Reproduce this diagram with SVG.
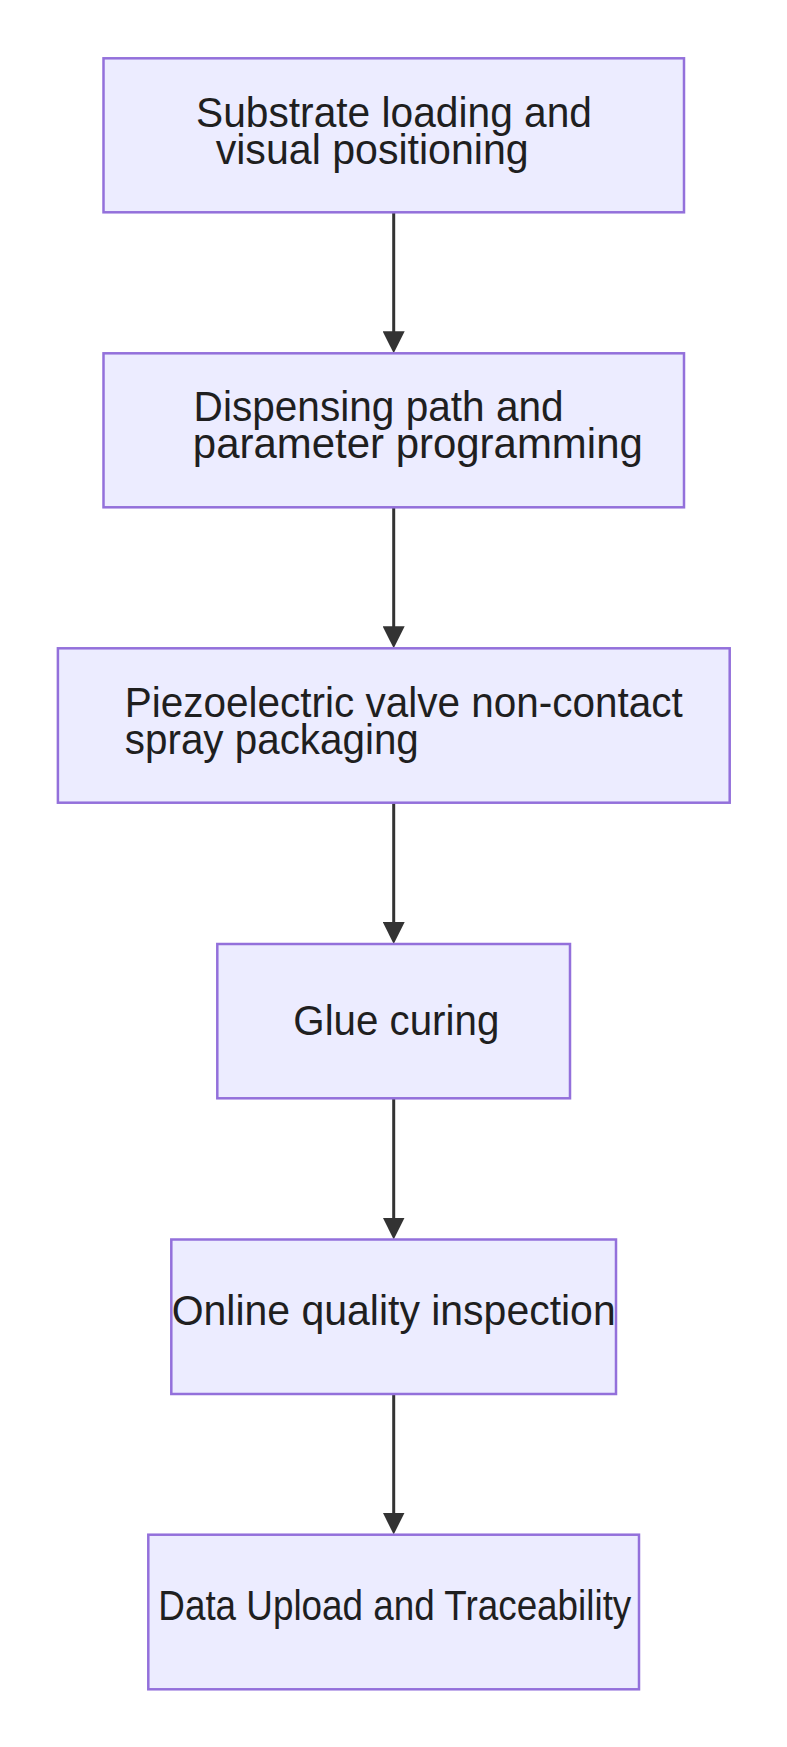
<svg xmlns="http://www.w3.org/2000/svg" width="787" height="1747" viewBox="0 0 787 1747">
<style>
.node rect{fill:#ECECFF;stroke:#9370DB;stroke-width:2.5}
.node text{font-family:"Liberation Sans","Noto Sans",Arial,sans-serif;font-size:42px;fill:#1f1f1f}
.edge{fill:none;stroke:#333333;stroke-width:3}
</style>
<defs>
<marker id="arrow" viewBox="0 0 22 22" markerUnits="userSpaceOnUse" markerWidth="22" markerHeight="22" refX="17" refY="11" orient="auto">
<path d="M0,0 L22,11 L0,22 z" fill="#333333"/>
</marker>
</defs>
<rect width="787" height="1747" fill="#ffffff"/>
<g id="connectors">
<path class="edge" d="M393.7,212.3 L393.7,348.3" marker-end="url(#arrow)"/>
<path class="edge" d="M393.7,507.3 L393.7,643.3" marker-end="url(#arrow)"/>
<path class="edge" d="M393.7,802.7 L393.7,939" marker-end="url(#arrow)"/>
<path class="edge" d="M393.7,1098.3 L393.7,1234.5" marker-end="url(#arrow)"/>
<path class="edge" d="M393.7,1394 L393.7,1529.5" marker-end="url(#arrow)"/>
</g>
<g id="node1" class="node">
<rect x="103.5" y="58.3" width="580.5" height="154"/>
<text x="196" y="127.3" textLength="396" lengthAdjust="spacingAndGlyphs">Substrate loading and</text>
<text x="215.7" y="164" textLength="313" lengthAdjust="spacingAndGlyphs">visual positioning</text>
</g>
<g id="node2" class="node">
<rect x="103.5" y="353.3" width="580.5" height="154"/>
<text x="193.6" y="420.7" textLength="370" lengthAdjust="spacingAndGlyphs">Dispensing path and</text>
<text x="192.8" y="458.3" textLength="450" lengthAdjust="spacingAndGlyphs">parameter programming</text>
</g>
<g id="node3" class="node">
<rect x="57.9" y="648.3" width="671.8" height="154.4"/>
<text x="124.8" y="717.3" textLength="558" lengthAdjust="spacingAndGlyphs">Piezoelectric valve non-contact</text>
<text x="124.8" y="754" textLength="294" lengthAdjust="spacingAndGlyphs">spray packaging</text>
</g>
<g id="node4" class="node">
<rect x="217.3" y="944" width="352.7" height="154.3"/>
<text x="293.3" y="1035" textLength="206" lengthAdjust="spacingAndGlyphs">Glue curing</text>
</g>
<g id="node5" class="node">
<rect x="171.3" y="1239.5" width="444.7" height="154.5"/>
<text x="171.7" y="1325" textLength="444" lengthAdjust="spacingAndGlyphs">Online quality inspection</text>
</g>
<g id="node6" class="node">
<rect x="148.3" y="1534.7" width="490.7" height="154.6"/>
<text x="158.3" y="1620" textLength="473" lengthAdjust="spacingAndGlyphs">Data Upload and Traceability</text>
</g>
</svg>
